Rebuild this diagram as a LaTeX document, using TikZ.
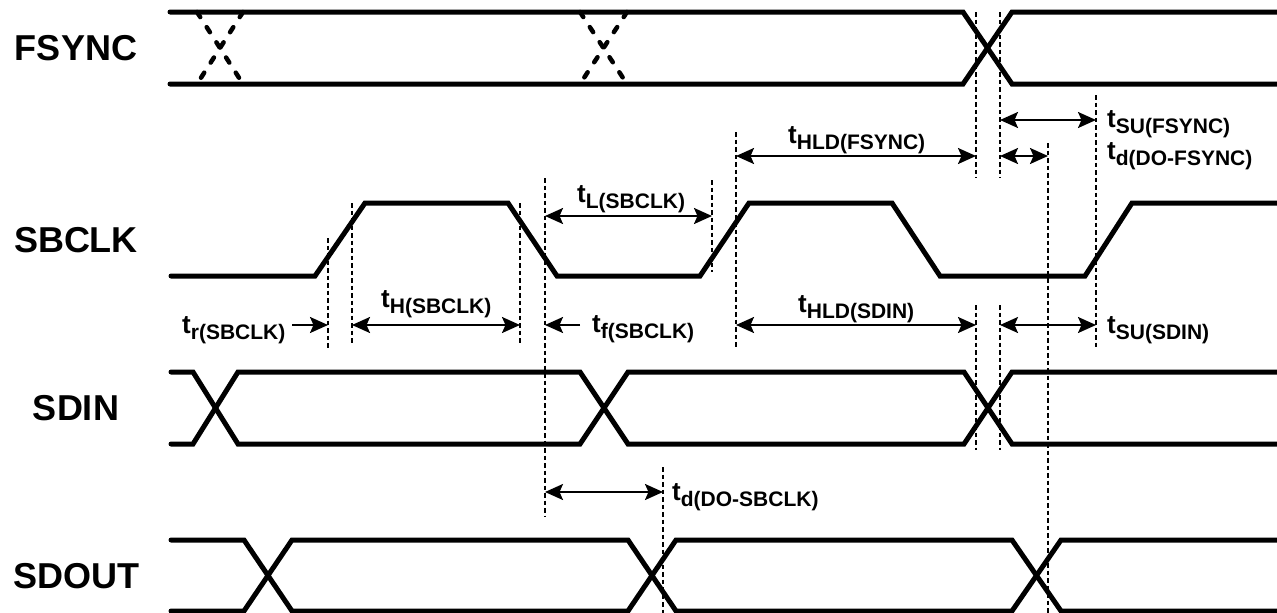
\documentclass[tikz,border=0pt]{standalone}
\usepackage{fontspec}
\setmainfont{Liberation Sans}
\usetikzlibrary{arrows.meta}
\tikzset{
  sig/.style={line width=5pt, line cap=round, line join=miter},
  ghost/.style={line width=4.5pt, line cap=round, dash pattern=on 6pt off 12pt},
  guide/.style={line width=2.8pt, dash pattern=on 4.5pt off 3pt},
  tip/.tip={Stealth[length=18pt,width=16pt,inset=3.5pt]},
  dim/.style={line width=2.2pt, tip-tip},
  dimr/.style={line width=2.2pt, -tip},
  signame/.style={font=\fontsize{36}{36}\selectfont\bfseries, inner sep=0pt, anchor=base},
  tlab/.style={inner sep=0pt, anchor=base west, font=\bfseries},
}
\newcommand{\tsub}[1]{{\fontsize{26}{26}\selectfont t}\raisebox{-6pt}{\fontsize{21}{21}\selectfont #1}}
\begin{document}
\begin{tikzpicture}[x=1pt,y=-1pt]
\useasboundingbox (0,0) rectangle (1277,613);

% signal names
\node[signame] (nF) at (76,60) {FSYNC};
\node[signame] (nB) at (76,252) {SBCLK};
\node[signame] (nI) at (76,420) {SDIN};
\node[signame] (nO) at (76,588) {SDOUT};

% FSYNC
\draw[sig] (170,12) -- (963,12) -- (1012,84) -- (1277,84);
\draw[sig] (170,84) -- (963,84) -- (1012,12) -- (1277,12);
\draw[ghost] (197,12) -- (243,84);
\draw[ghost] (243,12) -- (197,84);
\draw[ghost] (580,12) -- (627,84);
\draw[ghost] (627,12) -- (580,84);

% SBCLK
\draw[sig] (171,276) -- (315,276) -- (365,203) -- (508,203) -- (557,276) -- (700,276) -- (749,203) -- (892,203) -- (940,276) -- (1085,276) -- (1132,203) -- (1277,203);

% SDIN
\draw[sig] (171,372) -- (193,372) -- (238,444) -- (580,444) -- (628,372) -- (964,372) -- (1012,444) -- (1277,444);
\draw[sig] (171,444) -- (193,444) -- (238,372) -- (580,372) -- (628,444) -- (964,444) -- (1012,372) -- (1277,372);

% SDOUT
\draw[sig] (171,540) -- (244,540) -- (292,611) -- (628,611) -- (676,540) -- (1012,540) -- (1061,611) -- (1277,611);
\draw[sig] (171,611) -- (244,611) -- (292,540) -- (628,540) -- (676,611) -- (1012,611) -- (1061,540) -- (1277,540);

% guide lines
\coordinate (g1a) at (328,238);  \coordinate (g1b) at (328,348);
\coordinate (g2a) at (352,203);  \coordinate (g2b) at (352,343);
\coordinate (g3a) at (520,203);  \coordinate (g3b) at (520,343);
\coordinate (g4a) at (545,178);  \coordinate (g4b) at (545,517);
\coordinate (g5a) at (712,180);  \coordinate (g5b) at (712,272);
\coordinate (g6a) at (736,132);  \coordinate (g6b) at (736,348);
\coordinate (g7a) at (976,12);   \coordinate (g7b) at (976,178);
\coordinate (g7c) at (976,305);  \coordinate (g7d) at (976,450);
\coordinate (g8a) at (1000,12);  \coordinate (g8b) at (1000,178);
\coordinate (g8c) at (1000,305); \coordinate (g8d) at (1000,450);
\coordinate (g9a) at (1048,143); \coordinate (g9b) at (1048,613);
\coordinate (g10a) at (1096,95); \coordinate (g10b) at (1096,348);
\coordinate (g11a) at (663,467); \coordinate (g11b) at (663,613);
\foreach \a/\b in {g1a/g1b,g2a/g2b,g3a/g3b,g4a/g4b,g5a/g5b,g6a/g6b,g7a/g7b,g7c/g7d,g8a/g8b,g8c/g8d,g9a/g9b,g10a/g10b,g11a/g11b}
  \draw[guide] (\a) -- (\b);

% dimension arrows
\coordinate (tr0) at (292,325);  \coordinate (tr1) at (328,325);
\coordinate (tH0) at (352,325);  \coordinate (tH1) at (520,325);
\coordinate (tf0) at (580,325);  \coordinate (tf1) at (545,325);
\coordinate (tL0) at (545,216);  \coordinate (tL1) at (712,216);
\coordinate (hf0) at (736,156);  \coordinate (hf1) at (976,156);
\coordinate (sf0) at (1000,120); \coordinate (sf1) at (1096,120);
\coordinate (df0) at (1000,156); \coordinate (df1) at (1048,156);
\coordinate (hs0) at (736,325);  \coordinate (hs1) at (976,325);
\coordinate (ss0) at (1000,325); \coordinate (ss1) at (1096,325);
\coordinate (ds0) at (545,492);  \coordinate (ds1) at (663,492);
\draw[dimr] (tr0) -- (tr1);
\draw[dim] (tH0) -- (tH1);
\draw[dimr] (tf0) -- (tf1);
\draw[dim] (tL0) -- (tL1);
\draw[dim] (hf0) -- (hf1);
\draw[dim] (sf0) -- (sf1);
\draw[dim] (df0) -- (df1);
\draw[dim] (hs0) -- (hs1);
\draw[dim] (ss0) -- (ss1);
\draw[dim] (ds0) -- (ds1);

% labels
\node[tlab] (Ltr) at (182,333) {\tsub{r(SBCLK)}};
\node[tlab] (LtH) at (381,307) {\tsub{H(SBCLK)}};
\node[tlab] (Ltf) at (592,332) {\tsub{f(SBCLK)}};
\node[tlab] (LtL) at (577,202) {\tsub{L(SBCLK)}};
\node[tlab] (Lhf) at (788,143) {\tsub{HLD(FSYNC)}};
\node[tlab] (Lhs) at (798,312) {\tsub{HLD(SDIN)}};
\node[tlab] (Lsf) at (1107,127) {\tsub{SU(FSYNC)}};
\node[tlab] (Ldf) at (1107,159) {\tsub{d(DO-FSYNC)}};
\node[tlab] (Lss) at (1107,333) {\tsub{SU(SDIN)}};
\node[tlab] (Lds) at (672,500) {\tsub{d(DO-SBCLK)}};
\end{tikzpicture}
\end{document}
